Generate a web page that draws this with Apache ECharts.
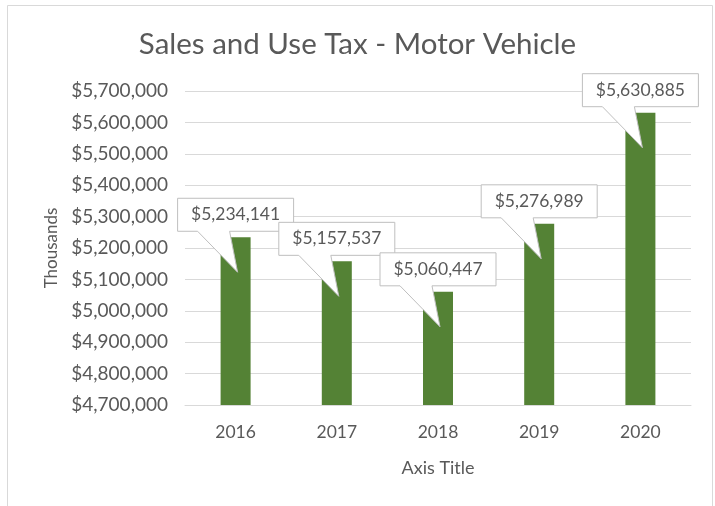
<!DOCTYPE html>
<html>
<head>
<meta charset="utf-8">
<script src="https://cdn.jsdelivr.net/npm/echarts@6/dist/echarts.min.js"></script>
<style>
    html, body { margin: 0; padding: 0; background: #fff; }
    #mychart { width: 715px; height: 506px; }
</style>
</head>
<body>
<div id="mychart"></div>
<script>
var years = ['2016', '2017', '2018', '2019', '2020'];
var taxValues = [5234141, 5157537, 5060447, 5276989, 5630885];
var yMin = 4700000;
var yMax = 5700000;
var yStep = 100000;

var font = 'Lato, "Open Sans", sans-serif';
var grey = '#595959';

function money(v) {
    return '$' + String(Math.round(v)).replace(/\B(?=(\d{3})+(?!\d))/g, ',');
}

// callout box + wedge pointing into the bar top
function renderCallout(params, api) {
    var p = api.coord([api.value(0), api.value(1)]);
    var x = p[0], y = p[1];
    var w = 58, top = y - 39, bot = y - 6;
    var points = [
        [x - w, top], [x + w, top], [x + w, bot],
        [x - 6, bot], [x + 2, y + 35], [x - 38, bot],
        [x - w, bot]
    ];
    return {
        type: 'group',
        children: [
            {
                type: 'polygon',
                shape: {points: points},
                style: {fill: '#fff', stroke: '#bfbfbf', lineWidth: 1}
            },
            {
                type: 'text',
                x: x,
                y: (top + bot) / 2,
                style: {
                    text: money(api.value(1)),
                    fill: grey,
                    font: '17.5px ' + font,
                    align: 'center',
                    verticalAlign: 'middle'
                }
            }
        ]
    };
}

var option = {
    animation: false,
    backgroundColor: '#fff',
    textStyle: {fontFamily: font},
    graphic: [
        {
            type: 'rect',
            shape: {x: 7.5, y: 5.5, width: 705, height: 510},
            style: {fill: 'none', stroke: '#d9d9d9', lineWidth: 1},
            silent: true
        }
    ],
    title: {
        text: 'Sales and Use Tax - Motor Vehicle',
        left: 'center',
        top: 24,
        textStyle: {
            color: grey,
            fontSize: 29.5,
            fontWeight: 'normal',
            fontFamily: font
        }
    },
    grid: {
        left: 185,
        right: 24,
        top: 91,
        bottom: 101
    },
    xAxis: {
        type: 'category',
        data: years,
        name: 'Axis Title',
        nameLocation: 'middle',
        nameGap: 54,
        nameTextStyle: {color: grey, fontSize: 18, fontFamily: font},
        axisLine: {lineStyle: {color: '#d9d9d9'}},
        axisTick: {show: false},
        axisLabel: {color: grey, fontSize: 17.5, margin: 18, fontFamily: font}
    },
    yAxis: {
        type: 'value',
        min: yMin,
        max: yMax,
        interval: yStep,
        name: 'Thousands',
        nameLocation: 'middle',
        nameGap: 124,
        nameTextStyle: {color: grey, fontSize: 17, fontFamily: font},
        axisLine: {show: false},
        axisTick: {show: false},
        axisLabel: {
            color: grey,
            fontSize: 19,
            margin: 17,
            fontFamily: font,
            formatter: money
        },
        splitLine: {lineStyle: {color: '#d9d9d9'}}
    },
    series: [
        {
            type: 'bar',
            data: taxValues,
            barWidth: 30,
            itemStyle: {color: '#548235'}
        },
        {
            type: 'custom',
            renderItem: renderCallout,
            data: taxValues.map(function (v, i) { return [i, v]; }),
            z: 5
        }
    ]
};

var mychart = echarts.init(document.getElementById('mychart'));
mychart.setOption(option);
</script>
</body>
</html>
